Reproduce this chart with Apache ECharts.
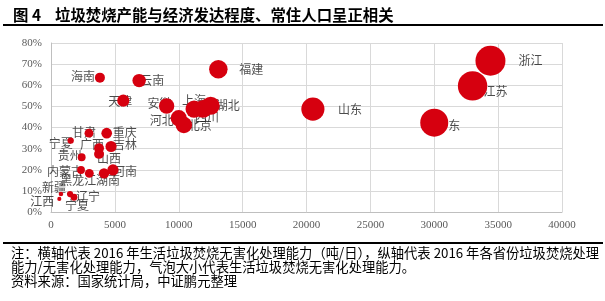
<!DOCTYPE html>
<html><head><meta charset="utf-8">
<script src="https://cdn.jsdelivr.net/npm/echarts@6/dist/echarts.min.js"></script>
<style>html,body{margin:0;padding:0;background:#fff}#c{width:605px;height:301px}</style>
</head><body><div id="c"></div>
<script>
const titleNo = '图 4';
const titleText = '垃圾焚烧产能与经济发达程度、常住人口呈正相关';
const noteLines = [
  '注：横轴代表 2016 年生活垃圾焚烧无害化处理能力（吨/日），纵轴代表 2016 年各省份垃圾焚烧处理',
  '能力/无害化处理能力，气泡大小代表生活垃圾焚烧无害化处理能力。',
  '资料来源：国家统计局，中证鹏元整理'
];
const provinces = ['浙江','江苏','广东','山东','福建','湖北','四川','上海','北京','河北','安徽','天津','云南','海南','甘肃','重庆','宁夏','广西','吉林','山西','贵州','内蒙古','黑龙江','湖南','河南','新疆','江西','辽宁','宁夏'];
// 生活垃圾焚烧无害化处理能力（吨/日）
const capacity = [34400,33000,30000,20500,13100,12500,11900,11200,10400,10000,9050,5660,6900,3830,2970,4360,1540,3760,4700,3760,2400,2350,3000,4150,4850,780,650,1490,1800];
// 焚烧处理能力 / 无害化处理能力 (%)
const ratio = [71.6,59.7,42.3,48.7,67.6,50.3,48.8,48.7,41.2,44.4,50.2,52.7,62.2,63.6,37.3,37.3,33.8,30.2,31.0,27.5,25.9,19.9,18.3,18.3,19.9,8.5,6.2,8.5,7.0];
// label placement (style only)
const labelOffsets = [[40,0],[23,6],[14,3],[37,0],[33,0],[17,0],[4,9],[0,-9],[16,0],[-17,2],[-7,-3],[-3,1],[13,0],[-17,-1],[-5,-1],[18,-1],[-10,3],[-7,-4],[14,-2],[10,5],[-12,-2],[-16,1],[-11,7],[4,7],[12,1],[-7,-7],[-17,3],[18,2],[3,8]];
const xMin = 0, xMax = 40000, xStep = 5000;
const yMin = 0, yMax = 80, yStep = 10;

const pts = provinces.map((p,i)=>[capacity[i], ratio[i], p]);
const sizeFn = v => 0.1618*Math.sqrt(v[0]);
const RED = '#d6000f';
const cjk = '"Noto Sans CJK SC", sans-serif';
const serif = '"Liberation Serif", "DejaVu Serif", serif';

const chart = echarts.init(document.getElementById('c'), null, {renderer:'canvas'});
chart.setOption({
  animation:false,
  backgroundColor:'#fff',
  grid:{left:51, right:43, top:43, bottom:89},
  xAxis:{type:'value', min:xMin, max:xMax, interval:xStep,
    axisLine:{show:true, lineStyle:{color:'#bfbfbf'}}, axisTick:{show:false},
    splitLine:{show:true, lineStyle:{color:'#d9d9d9'}},
    axisLabel:{color:'#595959', fontFamily:serif, fontSize:11, margin:8, formatter:v=>String(v)}},
  yAxis:{type:'value', min:yMin, max:yMax, interval:yStep,
    axisLine:{show:true, lineStyle:{color:'#bfbfbf'}}, axisTick:{show:false},
    splitLine:{show:true, lineStyle:{color:'#d9d9d9'}},
    axisLabel:{color:'#595959', fontFamily:serif, fontSize:11, margin:9, formatter:v=>v+'%'}},
  series:[
    {type:'scatter', z:2, data:pts.map((d,i)=>({value:d, label:{offset:labelOffsets[i]}})),
     symbolSize:sizeFn, itemStyle:{color:'rgba(255,255,255,0)'}, silent:true,
     label:{show:true, position:'inside', formatter:p=>p.value[2], color:'#1f1f1f', fontFamily:cjk, fontSize:12}},
    {type:'scatter', z:5, data:pts, symbolSize:sizeFn, itemStyle:{color:RED, opacity:1}}
  ],
  graphic:[
    {type:'text', left:13, top:7, style:{text:titleNo, font:'bold 15.4px '+cjk, fill:'#000'}},
    {type:'text', left:55, top:7, style:{text:titleText, font:'bold 15.4px '+cjk, fill:'#000'}},
    {type:'rect', shape:{x:3, y:24, width:600, height:2}, style:{fill:'#000'}},
    {type:'rect', shape:{x:3, y:242, width:600, height:2}, style:{fill:'#000'}},
    {type:'text', left:11, top:246, style:{text:noteLines[0], font:'13.3px '+cjk, fill:'#000'}},
    {type:'text', left:11, top:260, style:{text:noteLines[1], font:'13.3px '+cjk, fill:'#000'}},
    {type:'text', left:11, top:274, style:{text:noteLines[2], font:'13.3px '+cjk, fill:'#000'}}
  ]
});
</script></body></html>
